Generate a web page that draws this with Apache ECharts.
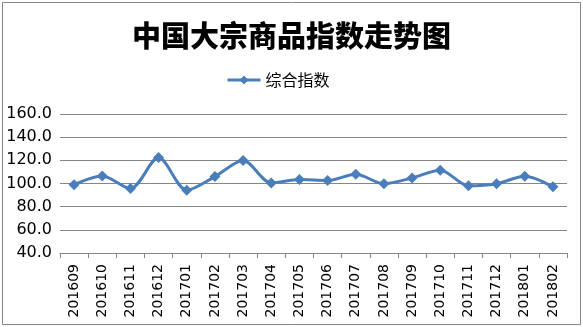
<!DOCTYPE html>
<html><head><meta charset="utf-8">
<script src="https://cdn.jsdelivr.net/npm/echarts@6/dist/echarts.min.js"></script>
<style>html,body{margin:0;padding:0;background:#fff}#c{width:583px;height:327px}</style>
</head><body><div id="c"></div>
<script>
const categories = ['201609','201610','201611','201612','201701','201702','201703','201704','201705','201706','201707','201708','201709','201710','201711','201712','201801','201802'];
const seriesName = '综合指数';
const values = [99.0,106.5,95.7,122.4,94.2,106.0,119.8,100.5,103.4,102.6,108.0,99.8,104.8,111.5,98.0,99.8,106.3,97.1];
const titleText = '中国大宗商品指数走势图';

const chart = echarts.init(document.getElementById('c'));
chart.setOption({
  animation: false,
  backgroundColor: '#fff',
  title: {
    text: titleText, left: 'center', top: 16,
    textStyle: {fontFamily: 'Noto Sans CJK SC', fontWeight: 900, fontSize: 29, color: '#000'}
  },
  legend: {
    data: [seriesName], left: 221, top: 67,
    itemWidth: 33, itemHeight: 11, itemGap: 4,
    lineStyle: {width: 3},
    textStyle: {fontFamily: 'Noto Sans CJK SC', fontSize: 16, color: '#000'}
  },
  graphic: [{type: 'rect', shape: {x: 2.5, y: 2.5, width: 578, height: 322}, style: {fill: 'none', stroke: '#868686', lineWidth: 1}, silent: true}],
  grid: {left: 60, right: 16, top: 114, bottom: 74},
  xAxis: {
    type: 'category', data: categories, boundaryGap: true,
    axisLine: {lineStyle: {color: '#868686'}},
    axisTick: {show: true, length: 5, lineStyle: {color: '#868686'}},
    axisLabel: {rotate: 90, color: '#000', fontFamily: 'DejaVu Sans', fontSize: 14, margin: 11}
  },
  yAxis: {
    type: 'value', min: 40, max: 160, interval: 20,
    axisLine: {show: false}, axisTick: {show: false},
    splitLine: {lineStyle: {color: '#868686', width: 1}},
    axisLabel: {color: '#000', fontFamily: 'DejaVu Sans', fontSize: 16, margin: 8, formatter: v => v.toFixed(1)}
  },
  series: [{
    name: seriesName, type: 'line', data: values,
    symbol: 'diamond', symbolSize: 11,
    lineStyle: {color: '#4A7EBB', width: 3},
    itemStyle: {color: '#4A7EBB'},
    smooth: 0.3
  }]
});
</script></body></html>
